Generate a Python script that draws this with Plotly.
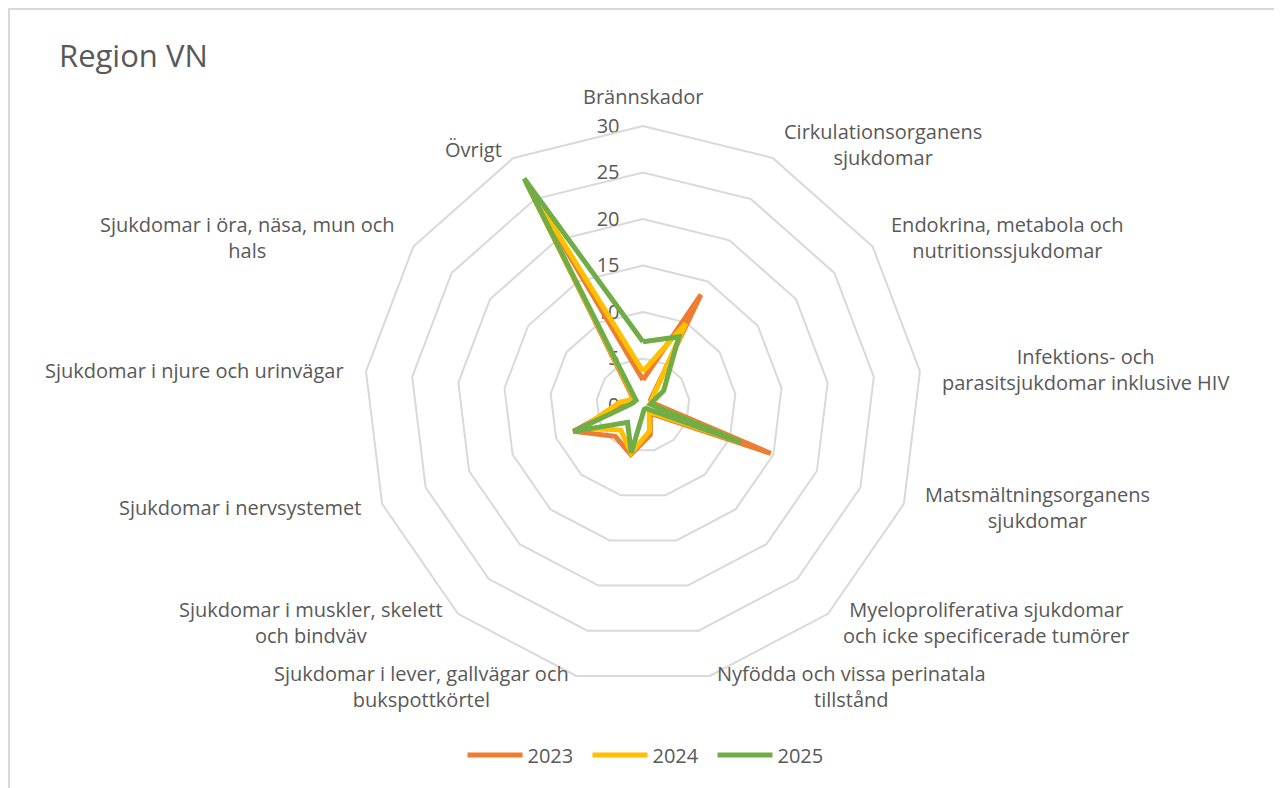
import math
import plotly.graph_objects as go

# ---------------- data ----------------
categories = [
    "Brännskador",
    "Cirkulationsorganens sjukdomar",
    "Endokrina, metabola och nutritionssjukdomar",
    "Infektions- och parasitsjukdomar inklusive HIV",
    "Matsmältningsorganens sjukdomar",
    "Myeloproliferativa sjukdomar och icke specificerade tumörer",
    "Nyfödda och vissa perinatala tillstånd",
    "Sjukdomar i lever, gallvägar och bukspottkörtel",
    "Sjukdomar i muskler, skelett och bindväv",
    "Sjukdomar i nervsystemet",
    "Sjukdomar i njure och urinvägar",
    "Sjukdomar i öra, näsa, mun och hals",
    "Övrigt",
]
category_labels = [
    "Brännskador",
    "Cirkulationsorganens<br>sjukdomar",
    "Endokrina, metabola och<br>nutritionssjukdomar",
    "Infektions- och<br>parasitsjukdomar inklusive HIV",
    "Matsmältningsorganens<br>sjukdomar",
    "Myeloproliferativa sjukdomar<br>och icke specificerade tumörer",
    "Nyfödda och vissa perinatala<br>tillstånd",
    "Sjukdomar i lever, gallvägar och<br>bukspottkörtel",
    "Sjukdomar i muskler, skelett<br>och bindväv",
    "Sjukdomar i nervsystemet",
    "Sjukdomar i njure och urinvägar",
    "Sjukdomar i öra, näsa, mun och<br>hals",
    "Övrigt",
]
years = ["2023", "2024", "2025"]
v2023 = [2.7, 13.4, 1.0, 1.2, 14.7, 1.2, 3.3, 5.5, 4.5, 8.0, 2.0, 1.3, 26.5]
v2024 = [3.6, 9.9, 1.2, 0.8, 11.0, 1.0, 2.9, 5.3, 3.6, 7.0, 2.5, 1.1, 27.0]
v2025 = [6.8, 8.3, 2.7, 0.8, 11.3, 0.5, 0.5, 5.3, 2.5, 8.0, 1.2, 0.9, 27.5]
radial_ticks = [0, 5, 10, 15, 20, 25, 30]
title_text = "Region VN"

# ---------------- styling / layout ----------------
series = [v2023, v2024, v2025]
colors = ["#ED7D31", "#FFC000", "#70AD47"]
TEXT = "#595959"
GRID = "#D9D9D9"
FONT = "Open Sans"

OFF = 8                       # page body margin in the browser
W, H = 1282 - OFF, 788 - OFF  # figure size
CX, CY, R = 643, 405, 279     # polar centre / outer radius (screen px)


def fx(x):
    return (x - OFF) / W


def fy(y):
    return 1 - (y - OFF) / H


fig = go.Figure()
for name, vals, col in zip(years, series, colors):
    fig.add_trace(go.Scatterpolar(
        r=vals + [vals[0]],
        theta=categories + [categories[0]],
        mode="lines",
        name=name,
        line=dict(color=col, width=5),
        hoverinfo="skip",
    ))

# category labels placed just outside each outer-polygon vertex
annotations = []
n = len(categories)
for k, lab in enumerate(category_labels):
    a = math.radians(k * 360.0 / n)
    dx, dy = math.sin(a), -math.cos(a)
    vx, vy = CX + R * dx, CY + R * dy
    if abs(dx) < 0.05:
        xa, ya = "center", ("bottom" if dy < 0 else "top")
        px, py = vx, vy + 14 * dy
    else:
        xa, ya = ("left" if dx > 0 else "right"), "middle"
        two_line = "<br>" in lab
        ay = (15 if two_line else 9) if dy < 0 else 11
        px, py = vx + 20 * dx, vy + ay * dy
    annotations.append(dict(
        x=fx(px), y=fy(py), xref="paper", yref="paper",
        text=lab, showarrow=False, xanchor=xa, yanchor=ya, align="center",
        font=dict(family=FONT, size=20, color=TEXT),
    ))

annotations.append(dict(
    x=fx(57), y=fy(55), xref="paper", yref="paper",
    text=title_text, showarrow=False, xanchor="left", yanchor="middle",
    font=dict(family=FONT, size=31, color=TEXT),
))

fig.update_layout(
    width=W, height=H,
    margin=dict(l=0, r=0, t=0, b=0),
    paper_bgcolor="white",
    plot_bgcolor="white",
    font=dict(family=FONT, color=TEXT),
    polar=dict(
        domain=dict(x=[fx(CX - R), fx(CX + R)],
                    y=[fy(CY + R), fy(CY - R)]),
        bgcolor="white",
        gridshape="linear",
        radialaxis=dict(
            range=[0, 30], tickvals=radial_ticks, showline=False,
            gridcolor=GRID, gridwidth=2, angle=90, tickangle=90,
            side="counterclockwise", ticks="outside", ticklen=16,
            tickcolor="rgba(0,0,0,0)",
            tickfont=dict(family=FONT, size=20, color=TEXT),
            layer="below traces",
        ),
        angularaxis=dict(
            direction="clockwise", rotation=90, showgrid=False,
            showline=True, linecolor=GRID, linewidth=2,
            showticklabels=False, ticks="",
            categoryorder="array", categoryarray=categories,
        ),
    ),
    showlegend=True,
    legend=dict(
        orientation="h", x=fx(650), xanchor="center", y=fy(755),
        yanchor="middle", font=dict(family=FONT, size=20, color=TEXT),
        bgcolor="rgba(0,0,0,0)", itemwidth=55, entrywidth=55,
    ),
    annotations=annotations,
    shapes=[dict(type="rect", xref="paper", yref="paper",
                 x0=fx(OFF + 1), x1=fx(1279), y0=-0.05, y1=fy(OFF + 1),
                 line=dict(color=GRID, width=2), fillcolor="rgba(0,0,0,0)",
                 layer="below")],
)

fig.write_html("out.html")
